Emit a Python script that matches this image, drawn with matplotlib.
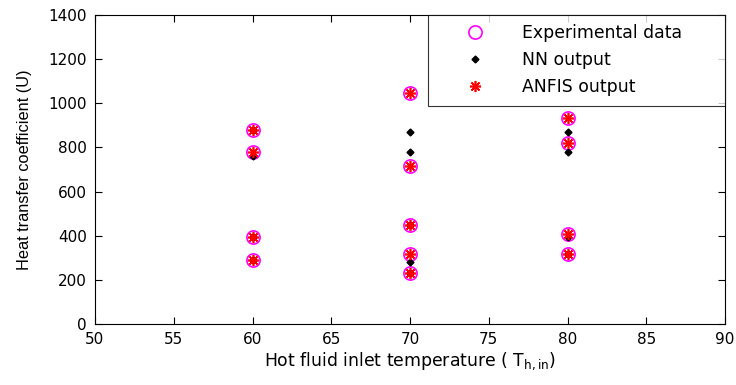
import matplotlib
matplotlib.use("Agg")
import matplotlib.pyplot as plt

plt.rcParams['font.family'] = ['DejaVu Sans']
plt.rcParams['mathtext.fontset'] = 'dejavusans'

x_exp = [60, 60, 60, 60, 70, 70, 70, 70, 70, 80, 80, 80, 80]
y_exp = [879, 781, 395, 290, 1047, 715, 449, 316, 229, 932, 822, 406, 317]
x_nn = [60, 60, 60, 60, 70, 70, 70, 70, 70, 80, 80, 80, 80]
y_nn = [879, 760, 393, 290, 872, 781, 449, 282, 232, 871, 781, 396, 317]
x_anfis = [60, 60, 60, 60, 70, 70, 70, 70, 70, 80, 80, 80, 80]
y_anfis = [879, 781, 395, 290, 1047, 715, 449, 316, 229, 932, 822, 406, 317]

xticks = [50, 55, 60, 65, 70, 75, 80, 85, 90]
yticks = [0, 200, 400, 600, 800, 1000, 1200, 1400]

fig = plt.figure(figsize=(7.36, 3.85), dpi=100)
ax = fig.add_axes([95/736, 1-324/385, 630/736, 309/385])

ax.plot(x_exp, y_exp, linestyle='none', marker='o', markersize=9.5,
        markerfacecolor='none', markeredgecolor='#ff00ff', markeredgewidth=1.2,
        label='Experimental data')
ax.plot(x_nn, y_nn, linestyle='none', marker='D', markersize=3.5,
        color='black', label='NN output')
ax.plot(x_anfis, y_anfis, linestyle='none', marker=(8, 2, 0), markersize=8,
        color='red', markeredgewidth=1.2, label='ANFIS output')

ax.set_xlim(50, 90)
ax.set_ylim(0, 1400)
ax.set_xticks(xticks)
ax.set_yticks(yticks)
ax.tick_params(direction='in', top=True, right=True, labelsize=11, length=5, pad=6)
for s in ax.spines.values():
    s.set_linewidth(0.8)

ax.set_xlabel('Hot fluid inlet temperature ( $\\mathregular{T_{h,in}}$)', fontsize=12.4, labelpad=2)
ax.set_ylabel('Heat transfer coefficient (U)', fontsize=11.8, labelpad=12,
              family=['Liberation Sans', 'DejaVu Sans'])

leg = ax.legend(loc='upper right', bbox_to_anchor=(0.5286, 0.715, 0.4714, 0.285),
                mode='expand', fontsize=12.4, frameon=True, fancybox=False,
                edgecolor='black', borderaxespad=0, handletextpad=0.6,
                borderpad=0.55, labelspacing=0.52, handlelength=4.3)
leg.get_frame().set_linewidth(0.8)

fig.savefig('out.png', dpi=100)
